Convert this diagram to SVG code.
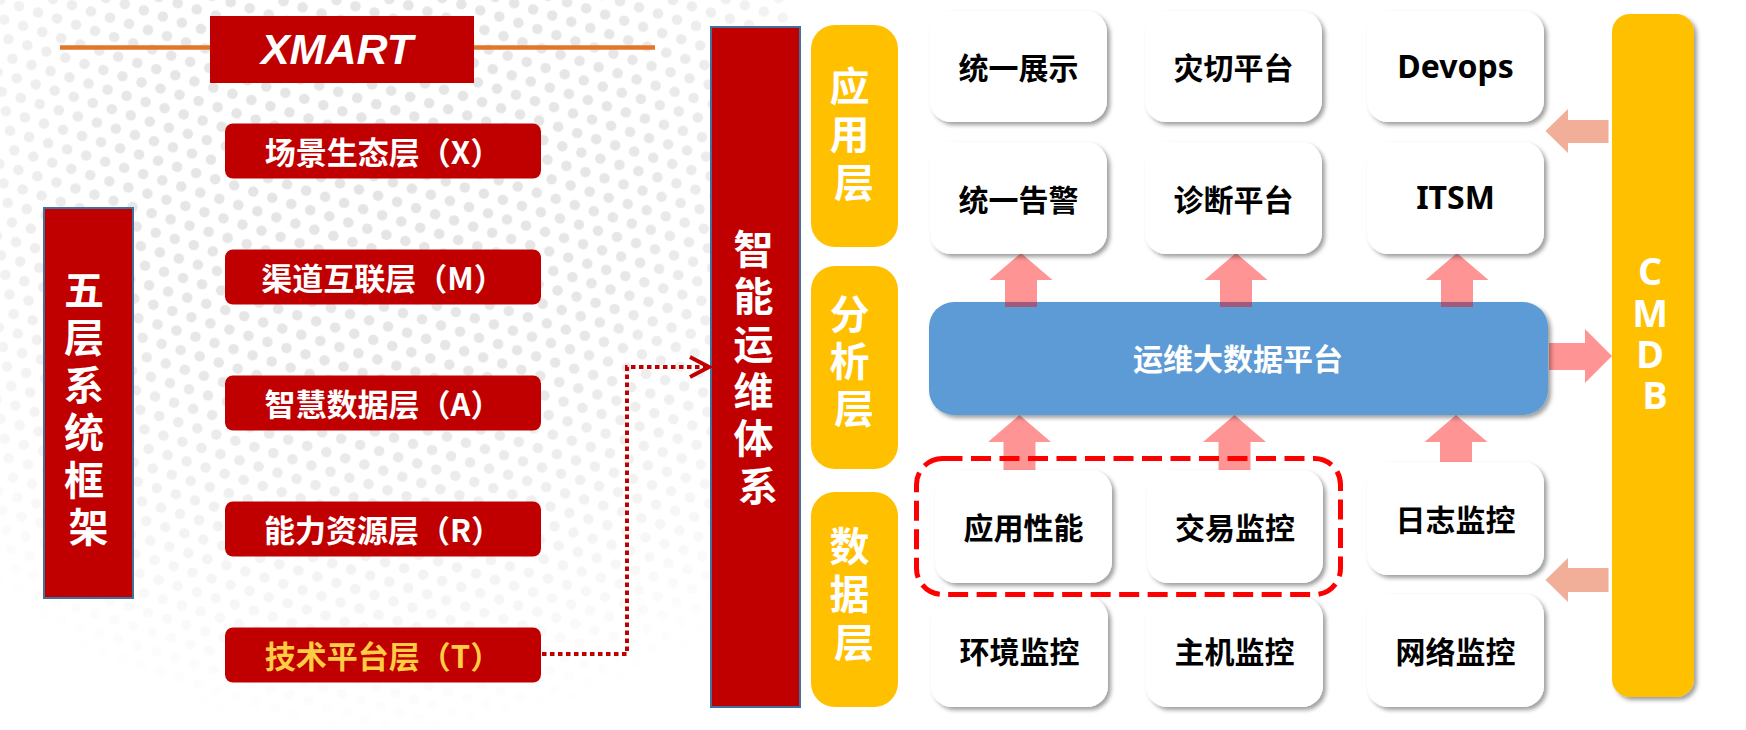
<svg xmlns="http://www.w3.org/2000/svg" width="1746" height="730" viewBox="0 0 1746 730">
<defs>
  <style>
    .cjk{font-family:"Noto Sans CJK SC","Noto Sans",sans-serif;font-weight:700;text-anchor:middle}
    .lat{font-family:"Noto Sans","Noto Sans CJK SC",sans-serif;font-weight:700;text-anchor:middle}
    .w{fill:#FFFFFF}
    .k{fill:#000000}
    .redbox{fill:#C00000}
    .vbox{fill:#C00000;stroke:#41719C;stroke-width:2}
    .layer{fill:#FFC000}
    .card{fill:#FFFFFF;filter:url(#sh)}
    .up{fill:#FF0000;fill-opacity:0.42}
    .back{fill:#F1AE98}
    .t40{font-size:40px}
    .t31{font-size:31px}
    .t30{font-size:30px}
  </style>
  <filter id="sh" x="-10%" y="-10%" width="130%" height="130%">
    <feDropShadow dx="3" dy="3" stdDeviation="2" flood-color="#000" flood-opacity="0.38"/>
  </filter>
  <pattern id="dots" width="20" height="34.64" patternUnits="userSpaceOnUse" patternTransform="rotate(18)">
    <circle cx="0" cy="0" r="5.3" fill="#E4E4E4"/>
    <circle cx="20" cy="0" r="5.3" fill="#E4E4E4"/>
    <circle cx="10" cy="17.32" r="5.3" fill="#E4E4E4"/>
    <circle cx="0" cy="34.64" r="5.3" fill="#E4E4E4"/>
    <circle cx="20" cy="34.64" r="5.3" fill="#E4E4E4"/>
  </pattern>
  <radialGradient id="fade" cx="380" cy="160" r="580" gradientUnits="userSpaceOnUse">
    <stop offset="0" stop-color="#fff" stop-opacity="1"/>
    <stop offset="0.45" stop-color="#fff" stop-opacity="0.9"/>
    <stop offset="1" stop-color="#fff" stop-opacity="0"/>
  </radialGradient>
  <mask id="m">
    <rect x="0" y="0" width="790" height="730" fill="url(#fade)"/>
  </mask>
</defs>

<rect x="0" y="0" width="1746" height="730" fill="#FFFFFF"/>
<rect x="0" y="0" width="790" height="730" fill="url(#dots)" mask="url(#m)"/>

<!-- title line -->
<line x1="60" y1="47.5" x2="655" y2="47.5" stroke="#E2772A" stroke-width="4.5"/>

<g id="xmart">
  <rect x="210" y="16" width="264" height="67" fill="#C00000"/>
  <text x="337" y="64" font-family="'Liberation Sans',Arial,sans-serif" font-weight="700" font-style="italic" font-size="43" fill="#FFFFFF" text-anchor="middle">XMART</text>
</g>

<g id="five-layer">
  <rect class="vbox" x="44" y="208" width="89" height="390"/>
  <text class="cjk t40 w">
    <tspan x="88.5" y="305">五</tspan>
    <tspan x="88.5" y="352.4">层</tspan>
    <tspan x="88.5" y="399.8">系</tspan>
    <tspan x="88.5" y="447.2">统</tspan>
    <tspan x="88.5" y="494.6">框</tspan>
    <tspan x="88.5" y="542">架</tspan>
  </text>
</g>

<g id="layer-x">
  <rect class="redbox" x="225" y="123.5" width="316" height="55" rx="8"/>
  <text class="cjk t31 w" x="383" y="164">场景生态层（X）</text>
</g>
<g id="layer-m">
  <rect class="redbox" x="225" y="249.5" width="316" height="55" rx="8"/>
  <text class="cjk t31 w" x="383" y="290">渠道互联层（M）</text>
</g>
<g id="layer-a">
  <rect class="redbox" x="225" y="375.5" width="316" height="55" rx="8"/>
  <text class="cjk t31 w" x="383" y="416">智慧数据层（A）</text>
</g>
<g id="layer-r">
  <rect class="redbox" x="225" y="501.5" width="316" height="55" rx="8"/>
  <text class="cjk t31 w" x="383" y="542">能力资源层（R）</text>
</g>
<g id="layer-t">
  <rect class="redbox" x="225" y="627.5" width="316" height="55" rx="8"/>
  <text class="cjk t31" x="383" y="668" fill="#FFCC44">技术平台层（T）</text>
</g>

<g id="aiops">
  <rect class="vbox" x="711" y="27" width="89" height="680"/>
  <text class="cjk t40 w">
    <tspan x="758" y="264">智</tspan>
    <tspan x="758" y="311.3">能</tspan>
    <tspan x="758" y="358.6">运</tspan>
    <tspan x="758" y="405.9">维</tspan>
    <tspan x="758" y="453.2">体</tspan>
    <tspan x="758" y="500.5">系</tspan>
  </text>
</g>

<g id="app-layer">
  <rect class="layer" x="811" y="25" width="87" height="222" rx="24"/>
  <text class="cjk t40 w">
    <tspan x="854" y="101">应</tspan>
    <tspan x="854" y="149">用</tspan>
    <tspan x="854" y="197">层</tspan>
  </text>
</g>
<g id="analysis-layer">
  <rect class="layer" x="811" y="266" width="87" height="203" rx="24"/>
  <text class="cjk t40 w">
    <tspan x="854" y="329">分</tspan>
    <tspan x="854" y="376">析</tspan>
    <tspan x="854" y="423">层</tspan>
  </text>
</g>
<g id="data-layer">
  <rect class="layer" x="811" y="492" width="87" height="215" rx="24"/>
  <text class="cjk t40 w">
    <tspan x="854" y="561">数</tspan>
    <tspan x="854" y="609">据</tspan>
    <tspan x="854" y="657">层</tspan>
  </text>
</g>

<g id="connectors">
  <path d="M542 654 H627 V367 H706" fill="none" stroke="#C00000" stroke-width="4" stroke-dasharray="4.5 3.5"/>
  <polyline points="690,357 709,367 690,377" fill="none" stroke="#C00000" stroke-width="4"/>
  <!-- data row to big data platform -->
  <polygon class="up" points="1019.5,415 1051,442 1035.5,442 1035.5,470 1003.5,470 1003.5,442 988,442"/>
  <polygon class="up" points="1234.5,415 1266,442 1250.5,442 1250.5,470 1218.5,470 1218.5,442 1203,442"/>
  <polygon class="up" points="1456,415 1487.5,442 1472,442 1472,463 1440,463 1440,442 1424.5,442"/>
  <!-- platform to CMDB -->
  <polygon class="up" points="1549,343 1585,343 1585,329 1612,356 1585,383 1585,370 1549,370"/>
  <!-- CMDB back to cards -->
  <polygon class="back" points="1608.5,120 1568,120 1568,109 1545.5,131 1568,153 1568,143 1608.5,143"/>
  <polygon class="back" points="1608.5,568 1568,568 1568,558 1545.5,580 1568,602 1568,592 1608.5,592"/>
</g>

<g id="platform">
  <rect x="929" y="302" width="619" height="113" rx="25" fill="#5B9BD5" filter="url(#sh)"/>
  <text class="cjk t30 w" x="1238" y="369.5">运维大数据平台</text>
</g>

<g id="up-arrows">
  <polygon class="up" points="1021,253 1052.5,280 1037,280 1037,307 1005,307 1005,280 989.5,280"/>
  <polygon class="up" points="1236,253 1267.5,280 1252,280 1252,307 1220,307 1220,280 1204.5,280"/>
  <polygon class="up" points="1457,253 1488.5,280 1473,280 1473,307 1441,307 1441,280 1425.5,280"/>
</g>

<g id="card-display">
  <rect class="card" x="930" y="11" width="177" height="111" rx="21"/>
  <text class="cjk t30 k" x="1018.5" y="79">统一展示</text>
</g>
<g id="card-dr">
  <rect class="card" x="1145" y="11" width="177" height="111" rx="21"/>
  <text class="cjk t30 k" x="1233.5" y="79">灾切平台</text>
</g>
<g id="card-devops">
  <rect class="card" x="1367" y="11" width="177" height="111" rx="21"/>
  <text class="lat k" font-size="32" x="1455.5" y="78">Devops</text>
</g>
<g id="card-alert">
  <rect class="card" x="930" y="142" width="177" height="112" rx="21"/>
  <text class="cjk t30 k" x="1018.5" y="210.5">统一告警</text>
</g>
<g id="card-diag">
  <rect class="card" x="1145" y="142" width="177" height="112" rx="21"/>
  <text class="cjk t30 k" x="1233.5" y="210.5">诊断平台</text>
</g>
<g id="card-itsm">
  <rect class="card" x="1367" y="142" width="177" height="112" rx="21"/>
  <text class="lat k" font-size="32" x="1455.5" y="209">ITSM</text>
</g>

<g id="card-apm">
  <rect class="card" x="935" y="470" width="177" height="113" rx="21"/>
  <text class="cjk t30 k" x="1023.5" y="539">应用性能</text>
</g>
<g id="card-trade">
  <rect class="card" x="1147" y="470" width="176" height="113" rx="21"/>
  <text class="cjk t30 k" x="1235" y="539">交易监控</text>
</g>
<g id="card-log">
  <rect class="card" x="1367" y="462" width="177" height="113" rx="21"/>
  <text class="cjk t30 k" x="1455.5" y="530.5">日志监控</text>
</g>
<g id="card-env">
  <rect class="card" x="931" y="597" width="177" height="110" rx="21"/>
  <text class="cjk t30 k" x="1019.5" y="662.5">环境监控</text>
</g>
<g id="card-host">
  <rect class="card" x="1146" y="597" width="177" height="110" rx="21"/>
  <text class="cjk t30 k" x="1234.5" y="662.5">主机监控</text>
</g>
<g id="card-net">
  <rect class="card" x="1367" y="594" width="177" height="113" rx="21"/>
  <text class="cjk t30 k" x="1455.5" y="662.5">网络监控</text>
</g>

<g id="highlight">
  <rect x="916.5" y="458.5" width="424" height="136" rx="26" fill="none" stroke="#FF0000" stroke-width="5" stroke-dasharray="20 8.5"/>
</g>

<g id="cmdb">
  <rect x="1612" y="14" width="82" height="683" rx="18" fill="#FFC000" filter="url(#sh)"/>
  <text font-family="'Open Sans','Noto Sans',sans-serif" font-weight="700" font-size="38" fill="#FFFFFF" text-anchor="middle">
    <tspan x="1655" y="285">C</tspan>
    <tspan x="1655" y="326.5">M</tspan>
    <tspan x="1655" y="367.5">D</tspan>
    <tspan x="1655" y="409">B</tspan>
  </text>
</g>
</svg>
